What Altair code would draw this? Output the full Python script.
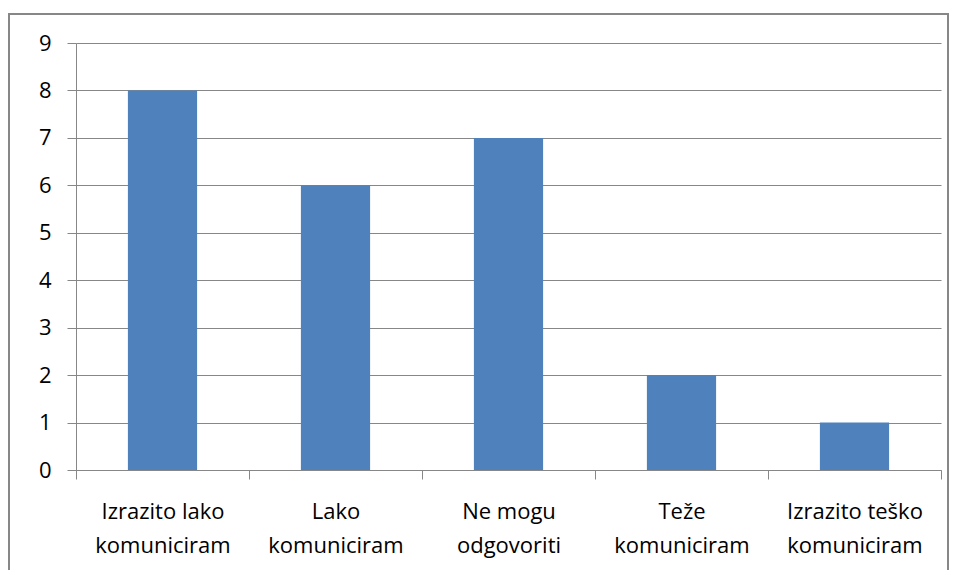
import altair as alt
import pandas as pd

categories = ["Izrazito lako komuniciram", "Lako komuniciram", "Ne mogu odgovoriti",
              "Teže komuniciram", "Izrazito teško komuniciram"]
values = [8, 6, 7, 2, 1]

df = pd.DataFrame({"kategorija": categories, "broj": values})

FONT = "Open Sans"
GRAY = "#878787"

label_expr = ("[substring(datum.label, 0, lastindexof(datum.label, ' ')), "
              "substring(datum.label, lastindexof(datum.label, ' ') + 1)]")

bars = alt.Chart(df).mark_bar(color="#4F81BD", width={"band": 0.4}).encode(
    x=alt.X("kategorija:N", sort=categories, title=None,
            scale=alt.Scale(paddingInner=0, paddingOuter=0),
            axis=alt.Axis(labelAngle=0, labelExpr=label_expr, tickBand="extent",
                          domainColor=GRAY, tickColor=GRAY, tickSize=9,
                          labelPadding=22, labelLineHeight=34,
                          labelFont=FONT, labelFontSize=22, labelColor="#000000",
                          grid=False)),
    y=alt.Y("broj:Q", title=None,
            scale=alt.Scale(domain=[0, 9], nice=False),
            axis=alt.Axis(values=list(range(10)), grid=True, gridColor=GRAY,
                          domainColor=GRAY, tickColor=GRAY, tickSize=9,
                          labelPadding=16, labelFont=FONT, labelFontSize=22,
                          labelColor="#000000")),
)

frame = alt.Chart(df).mark_rect(fill=None, stroke=GRAY, strokeWidth=2).encode(
    x=alt.value(-67), x2=alt.value(872), y=alt.value(-29), y2=alt.value(700)
)

chart = alt.layer(frame, bars).properties(
    width=865, height=427,
    padding={"left": 68, "top": 35, "right": 9, "bottom": 100},
    autosize=alt.AutoSizeParams(type="none"),
).configure_view(stroke=None)

chart.save("out.html", embed_options={"renderer": "svg", "actions": False})
